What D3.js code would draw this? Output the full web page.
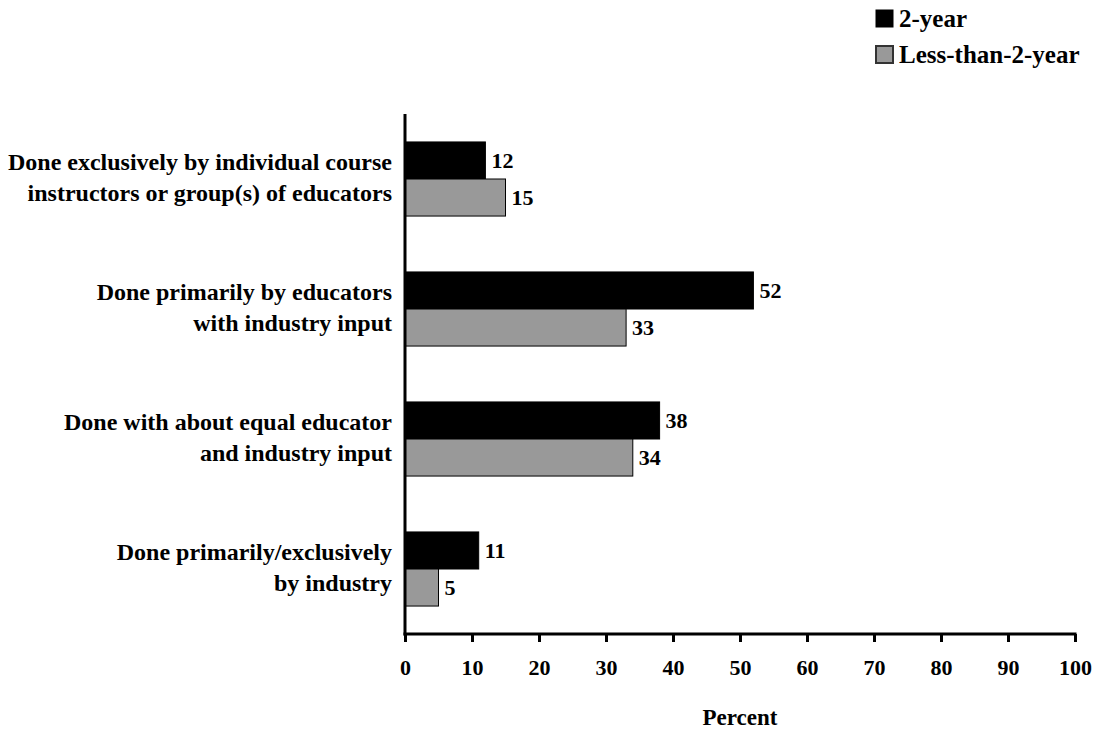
<!DOCTYPE html>
<html>
<head>
<meta charset="utf-8">
<script src="https://cdn.jsdelivr.net/npm/d3@7"></script>
<style>
  body { margin: 0; background: #fff; }
  svg text { font-family: "Liberation Serif", "Times New Roman", serif; font-weight: bold; fill: #000; }
</style>
</head>
<body>
<svg id="chart" width="1095" height="730"></svg>
<script>
const categories = [
  ["Done exclusively by individual course", "instructors or group(s) of educators"],
  ["Done primarily by educators", "with industry input"],
  ["Done with about equal educator", "and industry input"],
  ["Done primarily/exclusively", "by industry"]
];
const seriesNames = ["2-year", "Less-than-2-year"];
const twoYear = [12, 52, 38, 11];
const lessThanTwoYear = [15, 33, 34, 5];
const xTicks = [0, 10, 20, 30, 40, 50, 60, 70, 80, 90, 100];
const xTitle = "Percent";
const colors = ["#000000", "#999999"];

const svg = d3.select("#chart");
const margin = { left: 405, right: 20, top: 114, bottom: 96 };
const W = 1095, H = 730;

const catIdx = categories.map((d, i) => i);
const y = d3.scaleBand().domain(catIdx).range([margin.top, H - margin.bottom])
  .paddingInner(0.43).paddingOuter(0.215);
const ySub = d3.scaleBand().domain([0, 1]).range([0, y.bandwidth()]);
const x = d3.scaleLinear().domain([0, 100]).range([margin.left, 1075]);

const series = [twoYear, lessThanTwoYear];

// bars
series.forEach((vals, s) => {
  const g = svg.append("g");
  g.selectAll("rect").data(vals).join("rect")
    .attr("x", x(0))
    .attr("y", (d, i) => y(i) + ySub(s))
    .attr("width", d => x(d) - x(0))
    .attr("height", ySub.bandwidth())
    .attr("fill", colors[s])
    .attr("stroke", "#000")
    .attr("stroke-width", 1);
  g.selectAll("text").data(vals).join("text")
    .attr("x", d => x(d) + 6)
    .attr("y", (d, i) => y(i) + ySub(s) + ySub.bandwidth() / 2 + 7.5)
    .attr("font-size", 22)
    .text(d => d);
});

// x axis
const xAxis = svg.append("g")
  .attr("transform", `translate(0,${H - margin.bottom})`)
  .call(d3.axisBottom(x).tickValues(xTicks).tickSize(8).tickPadding(17).tickFormat(d3.format("d")));
xAxis.select(".domain").attr("stroke", "#000").attr("stroke-width", 3).attr("d", `M${x(0) - 1.5},0H${x(100) + 1.5}`);
xAxis.selectAll(".tick line").attr("stroke", "#000").attr("stroke-width", 3);
xAxis.selectAll(".tick text").attr("font-size", 22);

// y axis line
const yAxis = svg.append("g")
  .attr("transform", `translate(${x(0)},0)`)
  .call(d3.axisLeft(y).tickSize(0).tickFormat(""));
yAxis.select(".domain").attr("stroke", "#000").attr("stroke-width", 3)
  .attr("d", `M0,${margin.top}V${H - margin.bottom + 1.5}`);

// category labels
const labels = svg.append("g");
categories.forEach((lines, i) => {
  const cy = y(i) + y.bandwidth() / 2;
  const t = labels.append("text")
    .attr("text-anchor", "end")
    .attr("font-size", 24);
  lines.forEach((ln, j) => {
    t.append("tspan").attr("x", 392).attr("y", cy - 9 + j * 31).text(ln);
  });
});

// x title
svg.append("text")
  .attr("x", (x(0) + x(100)) / 2)
  .attr("y", 725)
  .attr("text-anchor", "middle")
  .attr("font-size", 23)
  .text(xTitle);

// legend
const legend = svg.append("g");
seriesNames.forEach((name, i) => {
  const ly = 10 + i * 36;
  legend.append("rect")
    .attr("x", 876).attr("y", ly).attr("width", 17).attr("height", 17)
    .attr("fill", colors[i])
    .attr("stroke", i === 0 ? "#000" : "#333").attr("stroke-width", i === 0 ? 1 : 2);
  legend.append("text")
    .attr("x", 899).attr("y", ly + 17)
    .attr("font-size", 25)
    .text(name);
});
</script>
</body>
</html>
